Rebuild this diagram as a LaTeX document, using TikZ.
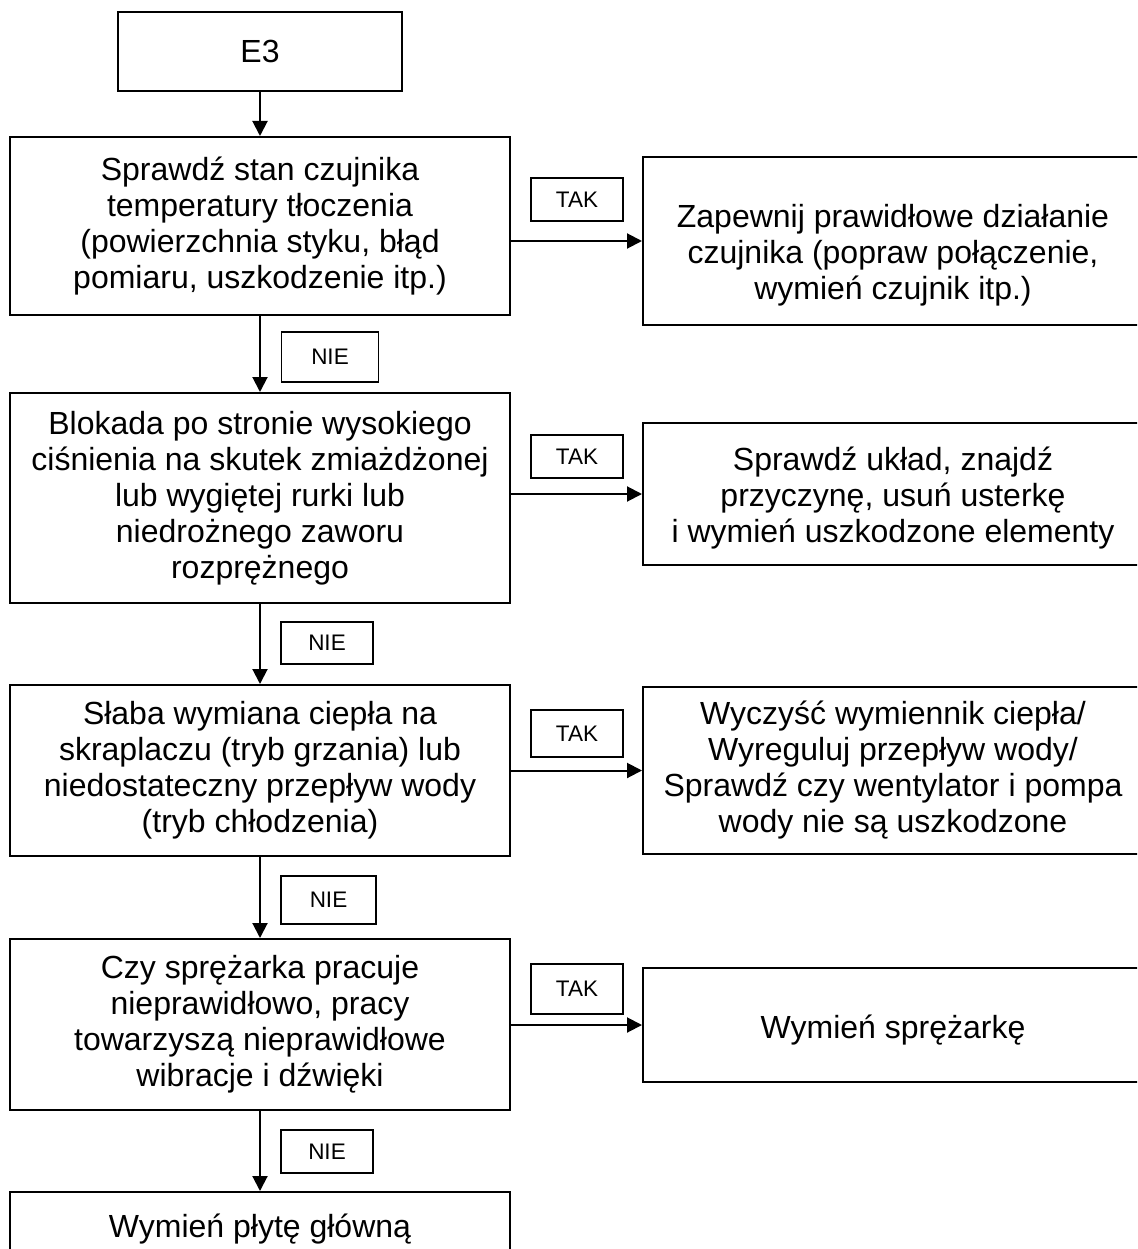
\documentclass[tikz,border=0pt]{standalone}
\usepackage{fontspec}
\setmainfont{Liberation Sans}
\usepackage{tikz}
\usetikzlibrary{positioning,arrows.meta,calc}
\tikzset{
  check-node/.style={draw=black, line width=2pt, minimum width=500pt, align=center,
    inner sep=0pt, font=\fontsize{32}{36}\selectfont},
  action-node/.style={draw=black, line width=2pt, minimum width=500pt, align=center,
    inner sep=0pt, font=\fontsize{32}{36}\selectfont},
  answer-tag/.style={draw=black, line width=1.6pt, minimum width=94pt, inner sep=0pt,
    font=\fontsize{22.5}{26}\selectfont},
  flow-arrow/.style={-{Triangle[length=15pt,width=15pt]}, line width=2pt, draw=black}
}
\begin{document}
\begin{tikzpicture}[x=1pt, y=-1pt]
\useasboundingbox (0,0) rectangle (1137,1249);
\clip (0,0) rectangle (1137,1249);

% Start
\node[check-node, minimum width=284pt, minimum height=79pt] (start) at (260,51.5) {E3};

% Left column: checks
\node[check-node, minimum height=178pt] (sensor) at (260,226) {Sprawdź stan czujnika\\temperatury tłoczenia\\(powierzchnia styku, błąd\\pomiaru, uszkodzenie itp.)};
\node[check-node, minimum height=210pt] (block) at (260,498) {Blokada po stronie wysokiego\\ciśnienia na skutek zmiażdżonej\\lub wygiętej rurki lub\\niedrożnego zaworu\\rozprężnego};
\node[check-node, minimum height=171pt] (heat) at (260,770.5) {Słaba wymiana ciepła na\\skraplaczu (tryb grzania) lub\\niedostateczny przepływ wody\\(tryb chłodzenia)};
\node[check-node, minimum height=171pt] (compr) at (260,1024.5) {Czy sprężarka pracuje\\nieprawidłowo, pracy\\towarzyszą nieprawidłowe\\wibracje i dźwięki};
\node[check-node, minimum height=74pt] (board) at (260,1229) {Wymień płytę główną};

% Right column: actions
\node[action-node, minimum height=168pt] (fix-sensor) at (893,241) {\rule{0pt}{52pt}Zapewnij prawidłowe działanie\\czujnika (popraw połączenie,\\wymień czujnik itp.)};
\node[action-node, minimum height=142pt] (fix-block) at (893,494) {\rule{0pt}{31pt}Sprawdź układ, znajdź\\przyczynę, usuń usterkę\\i wymień uszkodzone elementy};
\node[action-node, minimum height=167pt] (fix-heat) at (893,770.5) {Wyczyść wymiennik ciepła/\\Wyreguluj przepływ wody/\\Sprawdź czy wentylator i pompa\\wody nie są uszkodzone};
\node[action-node, minimum height=114pt] (fix-compr) at (893,1025) {\rule{0pt}{33pt}Wymień sprężarkę};

% Down the left column
\draw[flow-arrow] (start) -- (sensor);
\draw[flow-arrow] (sensor) -- (block);
\draw[flow-arrow] (block) -- (heat);
\draw[flow-arrow] (heat) -- (compr);
\draw[flow-arrow] (compr) -- (board);

% Across to the actions
\draw[flow-arrow] (fix-sensor.west -| sensor.east) -- (fix-sensor.west);
\draw[flow-arrow] (fix-block.west -| block.east) -- (fix-block.west);
\draw[flow-arrow] (fix-heat.west -| heat.east) -- (fix-heat.west);
\draw[flow-arrow] (fix-compr.west -| compr.east) -- (fix-compr.west);

% Answer tags
\node[answer-tag, minimum width=92pt, minimum height=43pt] (yes1) at (577,199.5) {TAK};
\node[answer-tag, minimum width=92pt, minimum height=43pt] (yes2) at (577,456.5) {TAK};
\node[answer-tag, minimum width=92pt, minimum height=47pt] (yes3) at (577,733.5) {TAK};
\node[answer-tag, minimum width=92pt, minimum height=50pt] (yes4) at (577,989) {TAK};
\node[answer-tag, minimum width=97pt, minimum height=50pt] (no1) at (330,357) {NIE};
\node[answer-tag, minimum width=92pt, minimum height=42pt] (no2) at (327,643) {NIE};
\node[answer-tag, minimum width=95pt, minimum height=48pt] (no3) at (328.5,900) {NIE};
\node[answer-tag, minimum width=92pt, minimum height=43pt] (no4) at (327,1151.5) {NIE};
\end{tikzpicture}
\end{document}
